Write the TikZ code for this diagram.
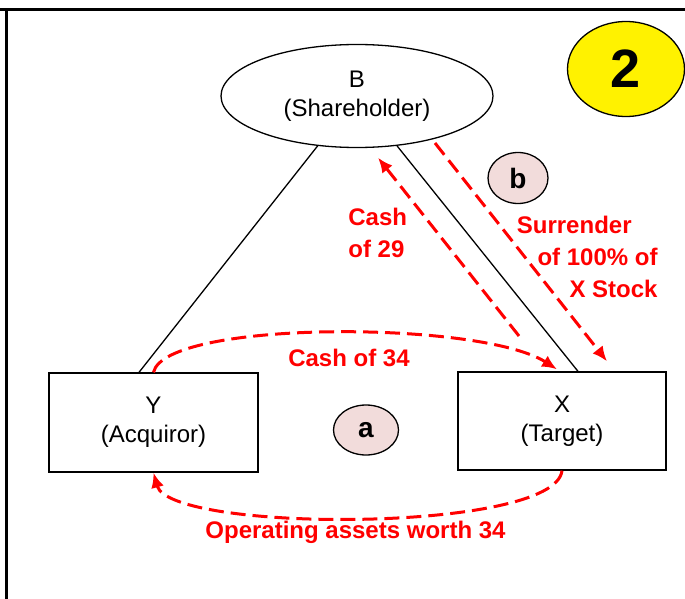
\documentclass[tikz,border=0pt]{standalone}
\usepackage{fontspec}
\setmainfont{Liberation Sans}
\usetikzlibrary{shapes.geometric,arrows.meta}
\definecolor{badgepink}{RGB}{242,220,219}

\begin{document}
\begin{tikzpicture}[x=0.5pt,y=-0.5pt]
  \tikzset{ party/.style={draw,line width=0.65pt,align=center,inner sep=0pt,font=\fontsize{12}{14.5}\selectfont},
    tag/.style={ellipse,draw,line width=0.65pt,fill=badgepink,inner sep=0pt,font=\fontsize{14}{14}\selectfont\bfseries},
    flow/.style={red,line width=1.5pt,dash pattern=on 7.5pt off 3.5pt,-{Latex[length=7.5pt,width=6.5pt]}},
    lbl/.style={red,inner sep=0pt,font=\fontsize{12}{16}\selectfont\bfseries},
  }
  \useasboundingbox (0,0) rectangle (685,599);
  \draw[line width=1.5pt] (0,9.5) -- (685,9.5);
  \draw[line width=1.5pt] (6.3,9.5) -- (6.3,599);

  \node[party,ellipse,minimum width=136pt,minimum height=51.5pt] (B) at (357,96) {B\\(Shareholder)};
  \node[party,rectangle,minimum width=104.5pt,minimum height=49.5pt] (Y) at (153.5,422.5) {Y\\(Acquiror)};
  \node[party,rectangle,minimum width=104pt,minimum height=49pt] (X) at (562,421) {X\\(Target)};
  \node[ellipse,draw,line width=0.65pt,fill=yellow,inner sep=0pt,minimum width=58.5pt,minimum height=47.5pt,
        font=\fontsize{27}{27}\selectfont\bfseries] (num) at (626,69) {2};
  \node[tag,minimum width=30pt,minimum height=25.5pt] (b) at (518,178) {b};
  \node[tag,minimum width=32.5pt,minimum height=25pt] (a) at (366,430) {a};

  \draw[line width=0.65pt] (B) -- ([xshift=-7.25pt]Y.north);
  \draw[line width=0.65pt] (B) -- ([xshift=8pt]X.north);

  \coordinate (c29) at (519,336);
  \coordinate (s0) at (435,143);
  \draw[flow] (c29) -- ([xshift=10.5pt,yshift=-4.75pt]B.south);
  \draw[flow] (s0) -- ([xshift=22.5pt,yshift=5pt]X.north);
  \draw[flow] (Y.north) .. controls (165,320) and (480,320) .. ([xshift=-2.5pt,yshift=1pt]X.north);
  \draw[flow] (X.south) .. controls (555,533) and (170,533) .. (Y.south);

  \node[lbl,align=left,anchor=west] (l29) at (348,233) {Cash\\of 29};
  \node[lbl,align=right,anchor=east] (lsur) at (658,257) {Surrender\hspace*{13pt}\\of 100\% of\\X Stock};
  \node[lbl] (l34) at (349,358) {Cash of 34};
  \node[lbl] (lops) at (355.5,532) {Operating assets worth 34};
\end{tikzpicture}
\end{document}
